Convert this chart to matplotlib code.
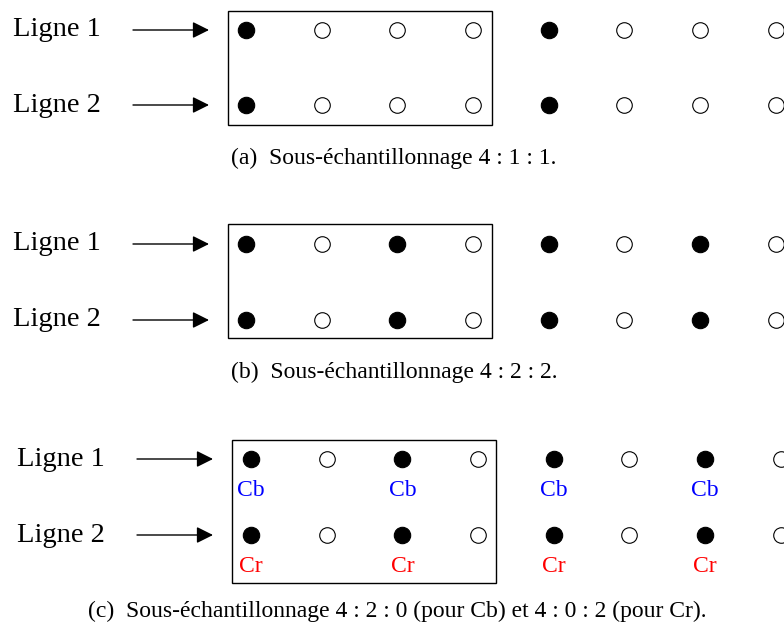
import matplotlib
matplotlib.use('Agg')
import matplotlib.pyplot as plt
from matplotlib.patches import Rectangle

plt.rcParams['font.family'] = ['Liberation Serif', 'DejaVu Serif']

# sampling patterns (1 = chroma sample kept, 0 = dropped), 8 pixels per line
pattern_a = [1, 0, 0, 0, 1, 0, 0, 0]
pattern_b = [1, 0, 1, 0, 1, 0, 1, 0]
pattern_c = [1, 0, 1, 0, 1, 0, 1, 0]
row_labels = ['Ligne 1', 'Ligne 2']
chroma_labels = ['Cb', 'Cr']
chroma_colors = ['#0000ff', '#ff0000']
captions = ['(a)  Sous-échantillonnage 4 : 1 : 1.',
            '(b)  Sous-échantillonnage 4 : 2 : 2.',
            '(c)  Sous-échantillonnage 4 : 2 : 0 (pour Cb) et 4 : 0 : 2 (pour Cr).']

fig = plt.figure(figsize=(7.84, 6.24), dpi=100)
ax = fig.add_axes([0, 0, 1, 1])
ax.set_xlim(0, 784)
ax.set_ylim(624, 0)
ax.axis('off')

# panel layout: first dot x, line y's, frame box, caption position, label x
panels = [
    dict(pat=pattern_a, x0=246, ys=(30, 105), box=(228, 11, 264, 114), cap=(394, 158), tx=13, labels=False),
    dict(pat=pattern_b, x0=246, ys=(244, 320), box=(228, 224, 264, 114), cap=(394, 372), tx=13, labels=False),
    dict(pat=pattern_c, x0=251, ys=(459, 535), box=(232, 440, 264, 143), cap=(397, 611), tx=17, labels=True),
]
dx = 75.7

for i, p in enumerate(panels):
    xs = [p['x0'] + k * dx for k in range(len(p['pat']))]
    for r, y in enumerate(p['ys']):
        for x, v in zip(xs, p['pat']):
            if v:
                ax.plot(x, y, 'o', ms=11.8, mfc='black', mec='black', mew=0.8, clip_on=False)
            else:
                ax.plot(x, y, 'o', ms=11.2, mfc='white', mec='black', mew=0.8, clip_on=False)
            if p['labels'] and v:
                ax.text(x, y + 32, chroma_labels[r], ha='center', va='center',
                        fontsize=17, color=chroma_colors[r])
        ax.text(p['tx'], y, row_labels[r], ha='left', va='center', fontsize=20.5)
        ax.annotate('', xy=(p['tx'] + 196, y), xytext=(p['tx'] + 120, y),
                    arrowprops=dict(arrowstyle='-|>,head_length=1.0,head_width=0.5',
                                    color='black', lw=1.0, shrinkA=0, shrinkB=0))
    bx, by, bw, bh = p['box']
    ax.add_patch(Rectangle((bx, by), bw, bh, fill=False, edgecolor='black', lw=1.0))
    ax.text(p['cap'][0], p['cap'][1], captions[i], ha='center', va='center', fontsize=17)

fig.savefig('out.png', dpi=100, facecolor='white')
